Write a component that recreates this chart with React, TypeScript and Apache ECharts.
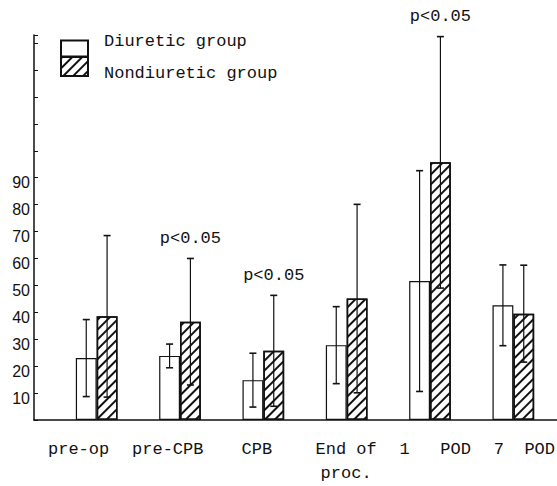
import React, { useEffect, useRef } from "react";
import * as echarts from "echarts";

const categories = ["pre-op", "pre-CPB", "CPB", "End of\nproc.", "1   POD", "7  POD"];
const diureticMean = [23, 23.8, 14.8, 27.8, 51.6, 42.6];
const diureticSD = [14.3, 4.4, 10, 14.3, 41, 15];
const nondiureticMean = [38.5, 36.5, 25.7, 45.1, 95.7, 39.5];
const nondiureticSD = [30, 23.5, 20.6, 35, 46.7, 18];
const pLabels = ["", "p<0.05", "p<0.05", "", "p<0.05", ""];
const yTickLabels = [10, 20, 30, 40, 50, 60, 70, 80, 90];

const INK = "#111";
const MONO = "Liberation Mono";

function errorSeries(name: string, means: number[], sds: number[], sign: number, labels?: string[]) {
  return {
    name,
    type: "custom",
    xAxisIndex: 1,
    yAxisIndex: 1,
    z: 5,
    clip: false,
    data: means.map((m, i) => [i, m, sds[i]]),
    renderItem: (params: any, api: any) => {
      const idx = api.value(0);
      const m = api.value(1);
      const s = api.value(2);
      const band = api.size([1, 0])[0];
      const x = api.coord([idx, m])[0] + sign * band * 0.125;
      const yh = api.coord([idx, m + s])[1];
      const yl = api.coord([idx, m - s])[1];
      const cap = 3.5;
      const children: any[] = [
        { type: "line", shape: { x1: x, y1: yl, x2: x, y2: yh }, style: { stroke: INK, lineWidth: 1.2 } },
        { type: "line", shape: { x1: x - cap, y1: yh, x2: x + cap, y2: yh }, style: { stroke: INK, lineWidth: 1.6 } },
        { type: "line", shape: { x1: x - cap, y1: yl, x2: x + cap, y2: yl }, style: { stroke: INK, lineWidth: 1.6 } },
      ];
      const lab = labels ? labels[params.dataIndex] : "";
      if (lab) {
        children.push({
          type: "text",
          style: {
            text: lab,
            x,
            y: yh - 20,
            align: "center",
            verticalAlign: "middle",
            fontFamily: MONO,
            fontSize: 17,
            fill: INK,
          },
        });
      }
      return { type: "group", children };
    },
  };
}

export default function App() {
  const ref = useRef<HTMLDivElement>(null);
  useEffect(() => {
    document.body.style.margin = "0";
    const chart = echarts.init(ref.current as HTMLDivElement, null, { renderer: "svg" });
    const option: any = {
      animation: false,
      backgroundColor: "#fff",
      grid: [
        { left: 34, top: 35, width: 535, height: 385, outerBoundsMode: "none", containLabel: false },
        { left: 55, top: 35, width: 500, height: 385, outerBoundsMode: "none", containLabel: false },
      ],
      legend: [
        {
          data: ["Diuretic group"],
          left: 60,
          top: 33,
          padding: 0,
          itemWidth: 27,
          itemHeight: 16,
          icon: "rect",
          selectedMode: false,
          formatter: (n: string) => n + "\n",
          textStyle: { fontFamily: MONO, fontSize: 17, color: INK, lineHeight: 14, padding: [0, 0, 0, 11] },
        },
        {
          data: ["Nondiuretic group"],
          left: 60,
          top: 51.5,
          padding: 0,
          itemWidth: 27,
          itemHeight: 19,
          icon: "rect",
          selectedMode: false,
          formatter: (n: string) => "\n" + n,
          textStyle: { fontFamily: MONO, fontSize: 17, color: INK, lineHeight: 13, padding: [0, 0, 0, 11] },
        },
      ],
      xAxis: [
        {
          type: "category",
          gridIndex: 0,
          data: categories,
          axisLine: { show: true, lineStyle: { color: INK, width: 1.5 } },
          axisTick: { show: false },
          axisLabel: {
            interval: 0,
            fontFamily: MONO,
            fontSize: 17,
            color: INK,
            lineHeight: 24,
            margin: 17,
          },
        },
        {
          type: "category",
          gridIndex: 1,
          data: categories,
          axisLine: { show: false },
          axisTick: { show: false },
          axisLabel: { show: false },
        },
      ],
      yAxis: [
        {
          type: "value",
          gridIndex: 0,
          min: 0,
          max: 143,
          interval: 10,
          splitLine: { show: false },
          axisLine: { show: true, lineStyle: { color: INK, width: 1.5 } },
          axisTick: { show: true, inside: true, length: 4, lineStyle: { color: INK } },
          axisLabel: {
            margin: 4,
            fontFamily: "Liberation Sans",
            fontSize: 16,
            color: INK,
            verticalAlign: "top",
            lineHeight: 16,
            padding: [-3, 0, 0, 0],
            formatter: (v: number) => (yTickLabels.indexOf(v) >= 0 ? String(v) : ""),
          },
        },
        { type: "value", gridIndex: 1, min: 0, max: 143, interval: 10, show: false },
      ],
      series: [
        {
          name: "Diuretic group",
          type: "bar",
          xAxisIndex: 1,
          yAxisIndex: 1,
          barWidth: "25%",
          barGap: "0%",
          data: diureticMean,
          itemStyle: { color: "#fff", borderColor: INK, borderWidth: 1.2 },
        },
        {
          name: "Nondiuretic group",
          type: "bar",
          xAxisIndex: 1,
          yAxisIndex: 1,
          barWidth: "25%",
          barGap: "0%",
          data: nondiureticMean,
          itemStyle: {
            color: "#fff",
            borderColor: INK,
            borderWidth: 1.5,
            decal: {
              symbol: "rect",
              symbolSize: 1,
              dashArrayX: [1, 0],
              dashArrayY: [1.1, 4.2],
              rotation: -Math.PI / 4,
              color: INK,
            },
          },
        },
        errorSeries("errD", diureticMean, diureticSD, -1),
        errorSeries("errN", nondiureticMean, nondiureticSD, 1, pLabels),
      ],
    };
    chart.setOption(option);
    return () => chart.dispose();
  }, []);
  return (
    <div
      ref={ref}
      style={{ position: "absolute", left: 0, top: 0, width: 557, height: 486 }}
    />
  );
}
